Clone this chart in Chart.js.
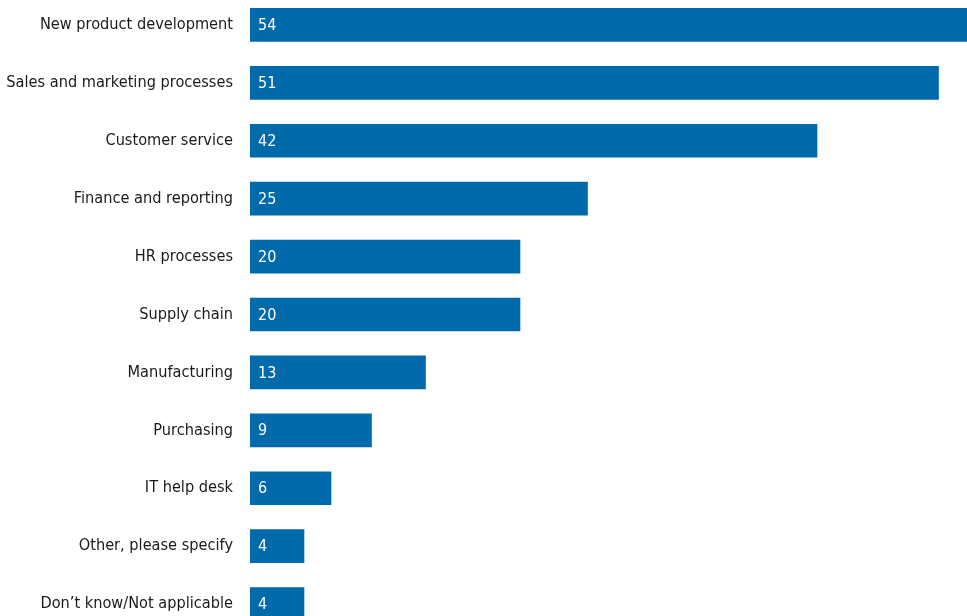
<!DOCTYPE html>
<html>
<head>
<meta charset="utf-8">
<script src="https://cdn.jsdelivr.net/npm/chart.js@4/dist/chart.umd.min.js"></script>
<style>
    html, body { margin: 0; padding: 0; background: #fff; overflow: hidden; }
    #wrap { position: absolute; left: 0; top: -4px; width: 967px; height: 637px; }
</style>
</head>
<body>
<div id="wrap"><canvas id="areas"></canvas></div>
<script>
// Business areas, share of respondents (%)
const areas = [
    'New product development',
    'Sales and marketing processes',
    'Customer service',
    'Finance and reporting',
    'HR processes',
    'Supply chain',
    'Manufacturing',
    'Purchasing',
    'IT help desk',
    'Other, please specify',
    'Don\u2019t know/Not applicable'
];
const shares = [54, 51, 42, 25, 20, 20, 13, 9, 6, 4, 4];

const BAR_COLOR = '#006aab';
const LABEL_FONT = '"Liberation Sans Narrow", "DejaVu Sans Condensed", sans-serif';

// Writes each value in white just inside the left end of its bar
const valueLabels = {
    id: 'valueLabels',
    afterDatasetsDraw(chart) {
        const { ctx } = chart;
        const meta = chart.getDatasetMeta(0);
        ctx.save();
        ctx.fillStyle = '#ffffff';
        ctx.font = '16px ' + LABEL_FONT;
        ctx.textAlign = 'left';
        ctx.textBaseline = 'middle';
        meta.data.forEach((bar, i) => {
            ctx.fillText(String(shares[i]), bar.base + 8, bar.y + 1);
        });
        ctx.restore();
    }
};

new Chart(document.getElementById('areas'), {
    type: 'bar',
    data: {
        labels: areas,
        datasets: [{
            data: shares,
            backgroundColor: BAR_COLOR,
            borderWidth: 0,
            barThickness: 33
        }]
    },
    options: {
        indexAxis: 'y',
        responsive: true,
        maintainAspectRatio: false,
        animation: false,
        layout: { padding: 0 },
        plugins: {
            legend: { display: false },
            tooltip: { enabled: false }
        },
        scales: {
            x: {
                display: false,
                min: 0,
                max: 717 / 13.5
            },
            y: {
                grid: { display: false, drawTicks: false },
                border: { display: false },
                ticks: {
                    color: '#1a1a1a',
                    padding: 17,
                    font: { family: LABEL_FONT, size: 16.2 }
                },
                afterFit(axis) {
                    axis.width = 250;
                    // no extra room above/below the category band
                    axis.paddingTop = 0;
                    axis.paddingBottom = 0;
                }
            }
        }
    },
    plugins: [valueLabels]
});
</script>
</body>
</html>
